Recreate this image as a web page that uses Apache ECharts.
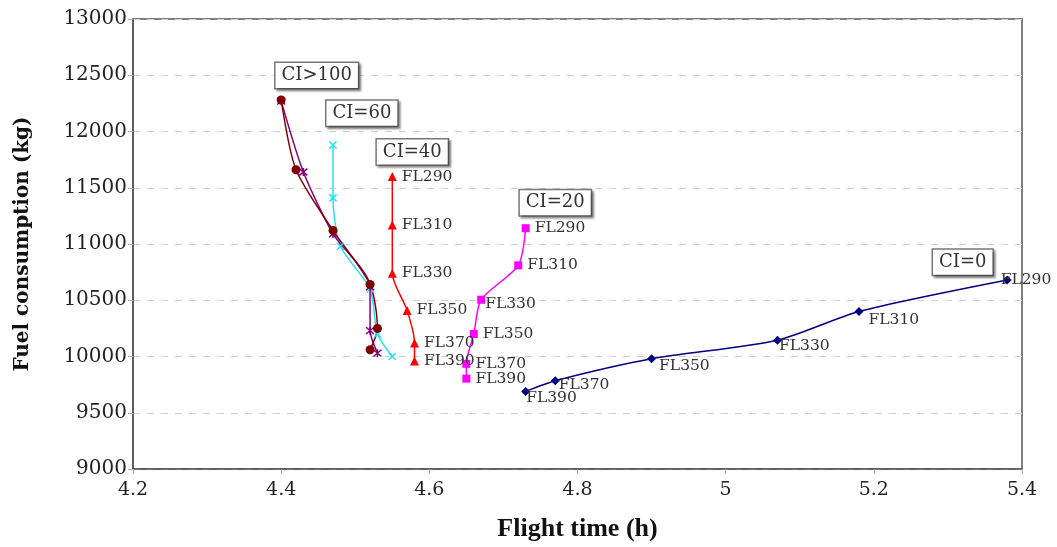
<!DOCTYPE html>
<html>
<head>
<meta charset="utf-8">
<script src="https://cdn.jsdelivr.net/npm/echarts@6/dist/echarts.min.js"></script>
<style>
  html, body { margin: 0; padding: 0; background: #fff; }
  #chart { width: 1057px; height: 547px; }
</style>
</head>
<body>
<div id="chart"></div>
<script>
// ---- Data ----
const flightLevels = ['FL290', 'FL310', 'FL330', 'FL350', 'FL370', 'FL390'];

const ciOver100Time = [4.40, 4.42, 4.47, 4.52, 4.53, 4.52];
const ciOver100Fuel = [12280, 11660, 11120, 10640, 10250, 10060];

const ci100Time = [4.40, 4.43, 4.47, 4.52, 4.52, 4.53];
const ci100Fuel = [12270, 11640, 11090, 10620, 10230, 10030];

const ci60Time = [4.47, 4.47, 4.48, 4.52, 4.53, 4.55];
const ci60Fuel = [11880, 11410, 10980, 10600, 10200, 10000];

const ci40Time = [4.55, 4.55, 4.55, 4.57, 4.58, 4.58];
const ci40Fuel = [11600, 11170, 10740, 10410, 10120, 9960];

const ci20Time = [4.73, 4.72, 4.67, 4.66, 4.65, 4.65];
const ci20Fuel = [11140, 10810, 10505, 10200, 9935, 9803];

const ci0Time = [5.38, 5.18, 5.07, 4.90, 4.77, 4.73];
const ci0Fuel = [10680, 10400, 10145, 9980, 9785, 9690];

const ciBoxTexts = ['CI>100', 'CI=60', 'CI=40', 'CI=20', 'CI=0'];

const xTicks = { min: 4.2, max: 5.4, interval: 0.2 };
const yTicks = { min: 9000, max: 13000, interval: 500 };

// ---- Build options ----
const serif = 'DejaVu Serif';
function pairs(t, f) { return t.map((v, i) => [v, f[i]]); }

const xMarkPath = 'path://M0,0L10,10M10,0L0,10';
const starPath = 'path://M0,0L10,10M10,0L0,10M5,-1L5,11';

const boxLabel = {
  show: true,
  position: 'inside',
  fontFamily: serif,
  fontSize: 18,
  color: '#333',
  backgroundColor: '#fff',
  borderColor: '#777',
  borderWidth: 1.5,
  padding: [4, 6, 3, 6],
  shadowColor: 'rgba(0,0,0,0.35)',
  shadowOffsetX: 2,
  shadowOffsetY: 2,
  shadowBlur: 2
};
function boxMark(text, coord) {
  return {
    symbol: 'circle',
    symbolSize: 1,
    silent: true,
    itemStyle: { color: 'rgba(0,0,0,0)' },
    label: boxLabel,
    data: [{ coord: coord, value: text, label: { formatter: text } }]
  };
}

const flLabelBase = {
  show: true,
  position: 'right',
  distance: 5,
  fontFamily: serif,
  fontSize: 15.5,
  color: '#333',
  formatter: (p) => flightLevels[p.dataIndex]
};

function withLabels(data, offsets) {
  return data.map((d, i) => {
    const o = offsets && offsets[i];
    return o ? { value: d, label: { offset: o } } : d;
  });
}

function lineSeries(name, color, symbol, size, data, extra) {
  const s = {
    name: name,
    type: 'line',
    smooth: 0.25,
    data: data,
    symbol: symbol,
    symbolSize: size,
    showAllSymbol: true,
    lineStyle: { color: color, width: 1.5 },
    itemStyle: { color: color },
    z: 3
  };
  return Object.assign(s, extra || {});
}

const series = [
  lineSeries('CI=0', '#000080', 'diamond', 9,
    withLabels(pairs(ci0Time, ci0Fuel), [[-16, 0], [0, 8], [-8, 6], [-2, 7], [-6, 4], [-9, 7]]),
    { label: flLabelBase, markPoint: boxMark(ciBoxTexts[4], [5.32, 10837]) }),
  lineSeries('CI=20', '#ff00ff', 'rect', 8,
    withLabels(pairs(ci20Time, ci20Fuel), [null, null, [-5, 4], null, null, null]),
    { label: flLabelBase, markPoint: boxMark(ciBoxTexts[3], [4.77, 11367]) }),
  lineSeries('CI=40', '#ff0000', 'triangle', 9,
    pairs(ci40Time, ci40Fuel),
    { label: flLabelBase, markPoint: boxMark(ciBoxTexts[2], [4.577, 11818]) }),
  lineSeries('CI=60', '#22e4ee', xMarkPath, 7,
    pairs(ci60Time, ci60Fuel),
    { itemStyle: { color: 'none', borderColor: '#22e4ee', borderWidth: 1.5 },
      markPoint: boxMark(ciBoxTexts[1], [4.509, 12163]) }),
  lineSeries('CI=100', '#800080', starPath, 8,
    pairs(ci100Time, ci100Fuel),
    { itemStyle: { color: 'none', borderColor: '#800080', borderWidth: 1.5 } }),
  lineSeries('CI>100', '#800000', 'circle', 9,
    pairs(ciOver100Time, ciOver100Fuel),
    { markPoint: boxMark(ciBoxTexts[0], [4.448, 12498]) })
];

const option = {
  animation: false,
  backgroundColor: '#fff',
  grid: {
    left: 133, right: 35, top: 19, bottom: 75,
    show: true, borderColor: '#555', borderWidth: 1.5, backgroundColor: 'transparent'
  },
  xAxis: {
    type: 'value',
    min: xTicks.min, max: xTicks.max, interval: xTicks.interval,
    name: 'Flight time (h)',
    nameLocation: 'middle',
    nameGap: 47,
    nameTextStyle: { fontFamily: 'Liberation Serif', fontWeight: 'bold', fontSize: 26, color: '#111' },
    axisLine: { show: true, onZero: false, lineStyle: { color: '#555', width: 1.5 } },
    axisTick: { show: true, length: 5, lineStyle: { color: '#aaa' } },
    axisLabel: { fontFamily: serif, fontSize: 19, color: '#222', margin: 12,
      formatter: (v) => String(Math.round(v * 10) / 10) },
    splitLine: { show: false }
  },
  yAxis: {
    type: 'value',
    min: yTicks.min, max: yTicks.max, interval: yTicks.interval,
    name: 'Fuel consumption (kg)',
    nameLocation: 'middle',
    nameGap: 100,
    nameTextStyle: { fontFamily: serif, fontWeight: 'bold', fontSize: 20, color: '#111' },
    axisLine: { show: true, onZero: false, lineStyle: { color: '#555', width: 1.5 } },
    axisTick: { show: true, length: 5, lineStyle: { color: '#aaa' } },
    axisLabel: { fontFamily: serif, fontSize: 20, color: '#222', margin: 6,
      formatter: (v) => String(Math.round(v)) },
    splitLine: { show: true, lineStyle: { color: '#d0d0d0', type: [7, 7], width: 1 } }
  },
  series: series
};

const chart = echarts.init(document.getElementById('chart'), null, { renderer: 'canvas' });
chart.setOption(option);
</script>
</body>
</html>
